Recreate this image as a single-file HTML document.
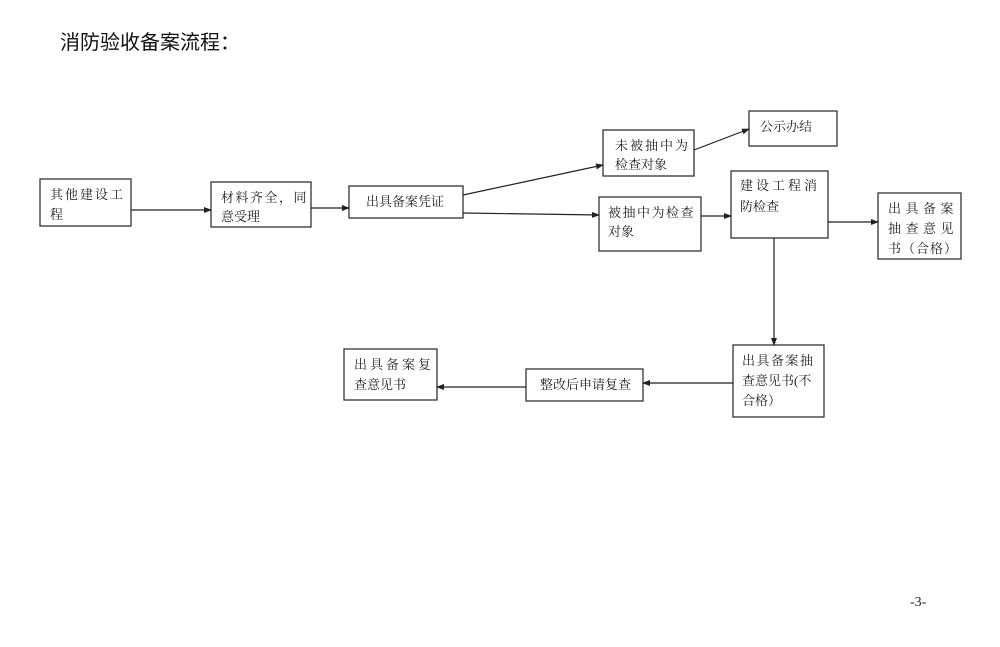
<!DOCTYPE html>
<html><head><meta charset="utf-8"><style>
body{margin:0;background:#fff;}
svg text{font-family:"Liberation Serif","Noto Serif CJK SC","Noto Sans CJK SC",serif;font-size:13px;fill:#222;}
</style></head><body>
<svg width="1000" height="642" viewBox="0 0 1000 642" xmlns="http://www.w3.org/2000/svg">
<defs><marker id="a" markerWidth="8" markerHeight="6" refX="7" refY="3" orient="auto" markerUnits="userSpaceOnUse"><path d="M0,0 L8,3 L0,6 z" fill="#222"/></marker></defs>
<text x="60" y="49" style="font-family:'Liberation Sans','Noto Sans CJK SC',sans-serif;font-size:20px;fill:#111">消防验收备案流程：</text>
<g fill="none" stroke="#333" stroke-width="1.3">
<rect x="40" y="179" width="91" height="47"/>
<rect x="211" y="182" width="100" height="45"/>
<rect x="349" y="186" width="114" height="32"/>
<rect x="603" y="130" width="91" height="46"/>
<rect x="749" y="111" width="88" height="35"/>
<rect x="599" y="197" width="102" height="54"/>
<rect x="731" y="171" width="97" height="67"/>
<rect x="878" y="193" width="83" height="66"/>
<rect x="733" y="345" width="91" height="72"/>
<rect x="526" y="369" width="117" height="32"/>
<rect x="344" y="349" width="93" height="51"/>
</g>
<g stroke="#222" stroke-width="1.2" marker-end="url(#a)">
<line x1="131" y1="210" x2="211" y2="210"/>
<line x1="311" y1="208" x2="349" y2="208"/>
<line x1="463" y1="195" x2="603" y2="165"/>
<line x1="463" y1="213" x2="599" y2="215"/>
<line x1="694" y1="150" x2="749" y2="129"/>
<line x1="701" y1="216" x2="731" y2="216"/>
<line x1="828" y1="222" x2="878" y2="222"/>
<line x1="774" y1="238" x2="774" y2="345"/>
<line x1="733" y1="383" x2="643" y2="383"/>
<line x1="526" y1="387" x2="437" y2="387"/>
</g>
<text x="50" y="199" letter-spacing="2">其他建设工</text>
<text x="50" y="219">程</text>
<text x="221" y="202" letter-spacing="1.5">材料齐全，同</text>
<text x="221" y="221">意受理</text>
<text x="366" y="206">出具备案凭证</text>
<text x="615" y="150" letter-spacing="2">未被抽中为</text>
<text x="615" y="169">检查对象</text>
<text x="760" y="131">公示办结</text>
<text x="608" y="217" letter-spacing="1.5">被抽中为检查</text>
<text x="608" y="236">对象</text>
<text x="740" y="190" letter-spacing="3">建设工程消</text>
<text x="740" y="211">防检查</text>
<text x="888" y="213" letter-spacing="4.5">出具备案</text>
<text x="888" y="233" letter-spacing="4.5">抽查意见</text>
<text x="888" y="253" letter-spacing="1">书（合格）</text>
<text x="742" y="365" letter-spacing="1.5">出具备案抽</text>
<text x="742" y="385">查意见书(不</text>
<text x="742" y="405">合格）</text>
<text x="540" y="389">整改后申请复查</text>
<text x="354" y="369" letter-spacing="3">出具备案复</text>
<text x="354" y="389">查意见书</text>
<text x="910" y="606" style="font-size:14px">-3-</text>
</svg>
</body></html>
